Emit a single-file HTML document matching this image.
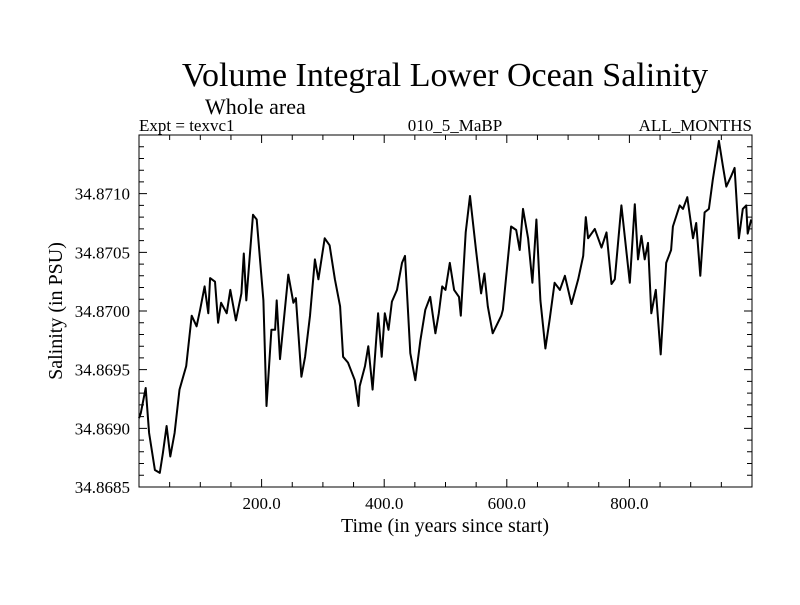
<!DOCTYPE html>
<html><head><meta charset="utf-8"><style>
body{margin:0;background:#fff}
svg text{font-family:"Liberation Serif",serif;fill:#000}
</style></head><body>
<svg id="chart" width="800" height="600" xmlns="http://www.w3.org/2000/svg">
<text x="445" y="86" font-size="34" text-anchor="middle">Volume Integral Lower Ocean Salinity</text>
<text x="205" y="114" font-size="22">Whole area</text>
<text x="139" y="131" font-size="17">Expt = texvc1</text>
<text x="455" y="131" font-size="17" text-anchor="middle">010_5_MaBP</text>
<text x="752" y="131" font-size="17" text-anchor="end">ALL_MONTHS</text>
<text x="445" y="532" font-size="20" text-anchor="middle">Time (in years since start)</text>
<text transform="translate(62,311) rotate(-90)" font-size="20" text-anchor="middle">Salinity (in PSU)</text>
<rect x="139" y="135" width="613" height="352" fill="none" stroke="#000" stroke-width="1"/>
<g id="ticks"></g>
<g id="labels"></g>
<path id="line" fill="none" stroke="#000" stroke-width="2" stroke-linejoin="round"/>
</svg>
<script>
const years=[0,3,11,16.5,26,34,39,45,51,58,66,77,86,94,99.6,107,113,116,124,129,134,143,149,158,167,171,175,186,192,203,208,216,222,224.6,230,243.6,251.8,256,265,271,279,287,292.6,303,311,319.6,328,333,341,352,358,360,368.6,374,381,390,396,401,407,412.6,420.8,429,434,442.6,450.8,459,467,475,483.6,489,494.6,500,507,514,522,525,533,540,549.8,558,563.5,569,577,591,593.6,607,615.4,621,626.5,634.7,641.8,648.3,654.8,663,670,678,686.6,694.7,705.5,716.4,724.6,728.9,732.7,743.6,754.5,762.6,770.8,776.2,787,800.6,808.8,814,819.6,825,830.4,835.8,843,851,860,868,871,882,887.5,894.5,903.8,909,915.6,922.6,929.7,936,946,952.4,958,966,971.6,978.6,985,990.5,993,998.7];
const anom=[5.87,6.3,8.44,4.6,1.45,1.2,2.9,5.2,2.6,4.6,8.3,10.3,14.6,13.7,15.1,17.1,14.8,17.8,17.5,14,15.7,14.8,16.8,14.2,16.5,19.9,15.9,23.2,22.8,15.9,6.9,13.4,13.4,15.9,10.9,18.1,15.7,16.1,9.4,11.1,14.6,19.4,17.7,21.2,20.6,17.7,15.4,11.1,10.6,9.1,6.9,8.6,10.3,12,8.3,14.8,11.1,14.8,13.4,15.8,16.8,19.1,19.7,11.4,9.1,12.5,15.1,16.2,13.1,14.8,17.1,16.8,19.1,16.8,16.2,14.6,21.7,24.8,20.2,16.5,18.2,15.4,13.1,14.6,15.1,22.2,21.9,20.2,23.7,21.2,17.4,22.8,15.9,11.8,14.3,17.4,16.8,18,15.6,17.7,19.7,23,21.2,22,20.4,21.7,17.3,17.7,24,17.4,24.1,19.4,21.4,19.4,20.8,14.8,16.8,11.3,19.1,20.2,22.2,24,23.7,24.7,21.2,22.5,18,23.4,23.7,26.2,29.5,27.4,25.6,26.5,27.2,21.2,23.7,24,21.6,22.8];
const salinity=anom.map(a=>34.8685+a*1e-4);
const xTickLabels=["200.0","400.0","600.0","800.0"];
const yTickLabels=["34.8685","34.8690","34.8695","34.8700","34.8705","34.8710"];
const X0=139,X1=752,Y0=487,Y1=135,xmin=0,xmax=1000,ymin=34.8685,ymax=34.8715;
const sx=v=>X0+(v-xmin)/(xmax-xmin)*(X1-X0);
const sy=v=>Y0-(v-ymin)/(ymax-ymin)*(Y0-Y1);
const NS="http://www.w3.org/2000/svg";
const tg=document.getElementById('ticks'),lg=document.getElementById('labels');
let td="";
for(let v=50;v<xmax;v+=50){const x=sx(v),l=v%200===0?8:5;td+=`M${x},${Y0}v${-l}M${x},${Y1}v${l}`;}
for(let i=1;i<30;i++){const v=ymin+i*1e-4,y=sy(v),l=i%5===0?8:5;td+=`M${X0},${y}h${l}M${X1},${y}h${-l}`;}
const tp=document.createElementNS(NS,'path');tp.setAttribute('d',td);tp.setAttribute('stroke','#000');tp.setAttribute('fill','none');


tg.appendChild(tp);
xTickLabels.forEach(s=>{const t=document.createElementNS(NS,'text');t.setAttribute('x',sx(parseFloat(s)));t.setAttribute('y',509);t.setAttribute('font-size','17');t.setAttribute('text-anchor','middle');t.textContent=s;


lg.appendChild(t);});
yTickLabels.forEach(s=>{const t=document.createElementNS(NS,'text');t.setAttribute('x',130);t.setAttribute('y',sy(parseFloat(s))+6);t.setAttribute('font-size','17');t.setAttribute('text-anchor','end');t.textContent=s;


lg.appendChild(t);});
document.getElementById('line').setAttribute('d',years.map((y,i)=>(i?'L':'M')+sx(y).toFixed(1)+','+sy(salinity[i]).toFixed(1)).join(''));
</script>
</body></html>
